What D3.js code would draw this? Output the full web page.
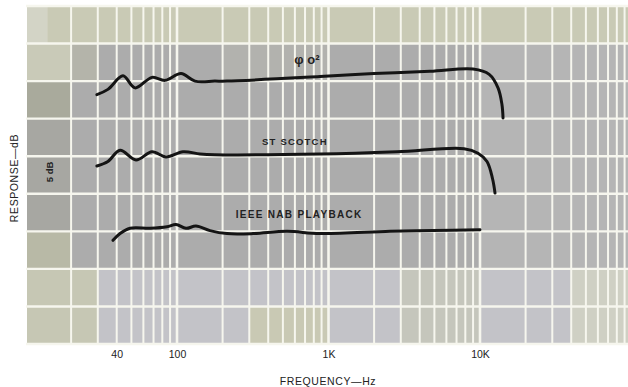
<!DOCTYPE html>
<html><head><meta charset="utf-8">
<script src="https://cdn.jsdelivr.net/npm/d3@7/dist/d3.min.js"></script>
<style>body{margin:0;background:#fff}svg{display:block}text{font-family:"Liberation Sans",Arial,sans-serif}</style>
</head><body><svg id="c" width="628" height="387"></svg>
<script>
// ---- data ----
const freqA = [29.6, 35.0, 44.0, 52.8, 68.4, 83.4, 106.3, 131.5, 178, 214, 879, 1995, 4677, 9000, 11500, 13150, 13960, 14190];
const dbA   = [33.2, 33.9, 35.7, 34.1, 35.5, 35.1, 36.0, 35.0, 35.0, 35.0, 35.6, 36.0, 36.3, 36.6, 35.9, 34.1, 31.9, 30.1];
const freqB = [29.6, 35.0, 42.1, 53.6, 68.4, 84.6, 109.6, 141.9, 178, 879, 2832, 7840, 9700, 11120, 12100, 12560];
const dbB   = [23.7, 24.3, 25.8, 24.5, 25.6, 24.9, 25.6, 25.3, 25.2, 25.3, 25.6, 26.0, 25.4, 24.3, 22.0, 20.1];
const freqC = [37.8, 42.1, 49.0, 66.4, 85.9, 98.5, 114.6, 133.4, 165, 213.8, 317.6, 532, 879, 2546, 4894, 10000];
const dbC   = [13.8, 14.7, 15.4, 15.4, 15.6, 15.9, 15.4, 15.7, 15.1, 14.7, 14.7, 15.0, 14.7, 15.0, 15.1, 15.2];
const seriesLabels = ["\u03C6 o\u00B2", "ST  SCOTCH", "IEEE NAB PLAYBACK"];
const tickFreqs = [40, 100, 1000, 10000];
const tickLabels = ["40", "100", "1K", "10K"];
const xTitle = "FREQUENCY\u2014Hz";
const yTitle = "RESPONSE\u2014dB";
const scaleNote = "5 dB";

// ---- layout ----
const svg = d3.select("#c");
const x = d3.scaleLog().domain([10, 100000]).range([25.5, 631.5]);
const y = d3.scaleLinear().domain([0, 45]).range([344, 6]);
const X0 = 27, X1 = 628;

// background shading (scan tones) by grid cells
const shade = [
  {f0:10, f1:100000, d0:40, d1:45, c:"#c9cab5"},
  {f0:10, f1:14, d0:40, d1:45, c:"#d3d4c6"},
  {f0:10, f1:100000, d0:10, d1:40, c:"#acacac"},
  {f0:10, f1:20, d0:35, d1:40, c:"#c9cab8"},
  {f0:20, f1:30, d0:35, d1:40, c:"#b4b4aa"},
  {f0:10, f1:20, d0:30, d1:35, c:"#a9aa9c"},
  {f0:10, f1:20, d0:10, d1:30, c:"#a7a7a2"},
  {f0:10, f1:20, d0:10, d1:15, c:"#b8b9a6"},
  {f0:10000, f1:100000, d0:10, d1:40, c:"#b5b5b5"},
  {f0:200, f1:1000, d0:35, d1:40, c:"#b2b2ae"},
  {f0:10, f1:100000, d0:0, d1:10, c:"#c3c3c8"},
  {f0:10, f1:30, d0:0, d1:10, c:"#c6c7b4"},
  {f0:300, f1:1000, d0:0, d1:5, c:"#c9c9b4"},
  {f0:3000, f1:10000, d0:0, d1:10, c:"#c5c6bc"},
  {f0:40000, f1:100000, d0:0, d1:10, c:"#cfd0c4"}
];
shade.forEach(s => {
  const xa = Math.max(X0, x(s.f0)), xb = Math.min(X1, x(s.f1));
  svg.append("rect").attr("x", xa).attr("y", y(s.d1)).attr("width", xb - xa).attr("height", y(s.d0) - y(s.d1)).attr("fill", s.c);
});

// grid
const vlines = [];
[10, 100, 1000, 10000].forEach(d => { for (let k = 1; k <= 9; k++) vlines.push(d * k); });
vlines.push(100000);
svg.append("g").selectAll("line").data(vlines.filter(v => x(v) >= 26 && x(v) <= 630)).join("line")
  .attr("x1", d => x(d)).attr("x2", d => x(d)).attr("y1", y(45)).attr("y2", y(0))
  .attr("stroke", "#f6f6ee").attr("stroke-width", d => [10,100,1000,10000].includes(d) ? 2.6 : 2);
svg.append("g").selectAll("line").data(d3.range(0, 46, 5)).join("line")
  .attr("x1", X0 - 1).attr("x2", X1).attr("y1", d => y(d)).attr("y2", d => y(d))
  .attr("stroke", "#f6f6ee").attr("stroke-width", 2.4);

// curves
const line = d3.line().x(d => x(d[0])).y(d => y(d[1])).curve(d3.curveCatmullRom.alpha(0.5));
[[freqA, dbA], [freqB, dbB], [freqC, dbC]].forEach(([f, v]) => {
  svg.append("path").datum(f.map((ff, i) => [ff, v[i]])).attr("d", line)
    .attr("fill", "none").attr("stroke", "#141414").attr("stroke-width", 3)
    .attr("stroke-linecap", "round").attr("stroke-linejoin", "round");
});

// series labels
svg.append("text").attr("x", x(720)).attr("y", y(36.6) - 5).attr("text-anchor", "middle")
  .attr("font-size", 13).attr("font-weight", "bold").attr("fill", "#222").text(seriesLabels[0]);
svg.append("text").attr("x", x(600)).attr("y", y(26.3) - 1).attr("text-anchor", "middle")
  .attr("font-size", 9.5).attr("letter-spacing", 1.2).attr("font-weight", "bold").attr("fill", "#222").text(seriesLabels[1]);
svg.append("text").attr("x", x(640)).attr("y", y(16.8)).attr("text-anchor", "middle")
  .attr("font-size", 10).attr("letter-spacing", 1.3).attr("font-weight", "bold").attr("fill", "#222").text(seriesLabels[2]);

// axis tick labels
const ax = d3.axisBottom(x).tickValues(tickFreqs).tickFormat((d, i) => tickLabels[i]).tickSize(0).tickPadding(0);
const g = svg.append("g").attr("transform", "translate(0,351)").call(ax);
g.select(".domain").remove();
g.selectAll("text").attr("font-size", 10.5).attr("fill", "#222").attr("font-family", "Liberation Sans, Arial, sans-serif").attr("dy", "0.71em");

svg.append("text").attr("x", 328).attr("y", 385).attr("text-anchor", "middle")
  .attr("font-size", 10.5).attr("letter-spacing", 0.6).attr("fill", "#222").text(xTitle);
svg.append("text").attr("transform", "translate(18,178) rotate(-90)").attr("text-anchor", "middle")
  .attr("font-size", 10.5).attr("letter-spacing", 0.6).attr("fill", "#222").text(yTitle);
svg.append("text").attr("transform", "translate(53,172) rotate(-90)").attr("text-anchor", "middle")
  .attr("font-size", 9.5).attr("font-weight", "bold").attr("fill", "#222").text(scaleNote);
</script></body></html>
